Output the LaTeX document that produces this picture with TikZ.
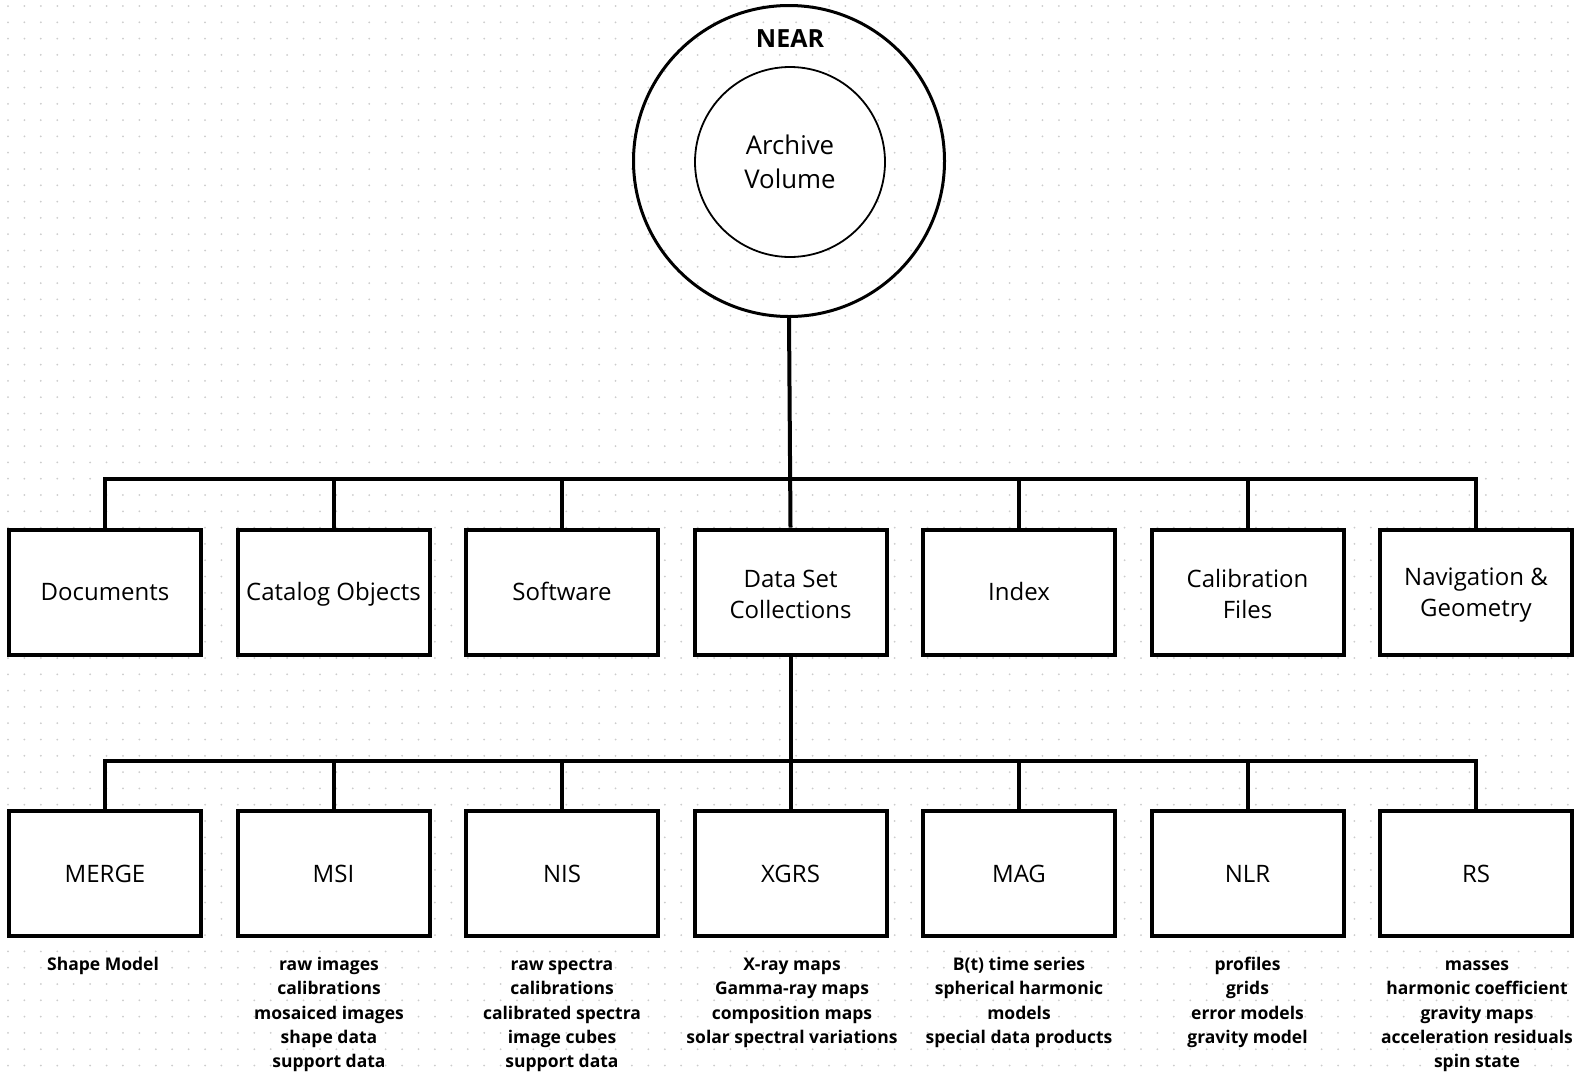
\documentclass[tikz,border=0pt]{standalone}
\usepackage{fontspec}
\setmainfont{Open Sans}
\newcommand\myst{\rule[-5.8pt]{0pt}{28.6pt}}
\newcommand\mytop{\rule{0pt}{15.5pt}}
\begin{document}
\begin{tikzpicture}[x=1pt,y=-1pt,
  box/.style={draw=black,line width=4pt,minimum width=192pt,minimum height=125pt,inner sep=0pt,align=center,font=\fontsize{24}{31}\selectfont},
  lbl/.style={anchor=north,align=center,inner sep=0pt,font=\fontsize{17.5}{24.4}\selectfont\bfseries},
  conn/.style={line width=4pt,line join=miter}]
\useasboundingbox (0,0) rectangle (1578,1074);
\fill[white] (0,0) rectangle (1578,1074);
% dot grid
\foreach \i in {0,...,95}{\foreach \j in {0,...,65}{
  \fill[black!20] (8+16.42*\i,6+16.3*\j) circle (1pt);}}
% circles
\node[circle,draw,line width=3pt,minimum size=311pt,inner sep=0pt] (outer) at (789,161) {};
\node[circle,draw,line width=1.8pt,fill=white,minimum size=190pt,inner sep=0pt,align=center,font=\fontsize{25.8}{34}\selectfont] (inner) at (790,162) {Archive\\ Volume};
\node[font=\fontsize{25}{28}\selectfont\bfseries,inner sep=0pt] (near) at (790,39) {NEAR};
% top row
\foreach \n/\t [count=\k from 0] in {t1/Documents,t2/Catalog Objects,t3/Software,t4/Data Set\myst\\ Collections,t5/Index,t6/Calibration\myst\\ Files,t7/Navigation \&\myst\\ Geometry}{
  \node[box,fill=white] (\n) at (105+228.5*\k,592) {\myst\t};}
% bottom row
\foreach \n/\t [count=\k from 0] in {b1/MERGE,b2/MSI,b3/NIS,b4/XGRS,b5/MAG,b6/NLR,b7/RS}{
  \node[box,fill=white] (\n) at (105+228.5*\k,873.5) {\myst\t};}
% labels
\node[lbl] (l1) at (103,954.5) {\mytop Shape Model};
\node[lbl] (l2) at (329,954.5) {\mytop raw images\\ calibrations\\ mosaiced images\\ shape data\\ support data};
\node[lbl] (l3) at (562,954.5) {\mytop raw spectra\\ calibrations\\ calibrated spectra\\ image cubes\\ support data};
\node[lbl] (l4) at (792,954.5) {\mytop X-ray maps\\ Gamma-ray maps\\ composition maps\\ solar spectral variations};
\node[lbl] (l5) at (1019,954.5) {\mytop B(t) time series\\ spherical harmonic\\ models\\ special data products};
\node[lbl] (l6) at (1247.5,954.5) {\mytop profiles\\ grids\\ error models\\ gravity model};
\node[lbl] (l7) at (1477,954.5) {\mytop masses\\ harmonic coefficient\\ gravity maps\\ acceleration residuals\\ spin state};
% connectors
\coordinate (bt) at (790,479);
\coordinate (bb) at (790,761);
\draw[conn] (outer.south) -- (t4.north);
\draw[conn] (t1.north) -- (t1.north |- bt) -- (t7.north |- bt) -- (t7.north);
\foreach \n in {t2,t3,t5,t6}{\draw[conn] (\n.north) -- (\n.north |- bt);}
\draw[conn] (t4.south) -- (b4.north);
\draw[conn] (b1.north) -- (b1.north |- bb) -- (b7.north |- bb) -- (b7.north);
\foreach \n in {b2,b3,b5,b6}{\draw[conn] (\n.north) -- (\n.north |- bb);}
\end{tikzpicture}
\end{document}
